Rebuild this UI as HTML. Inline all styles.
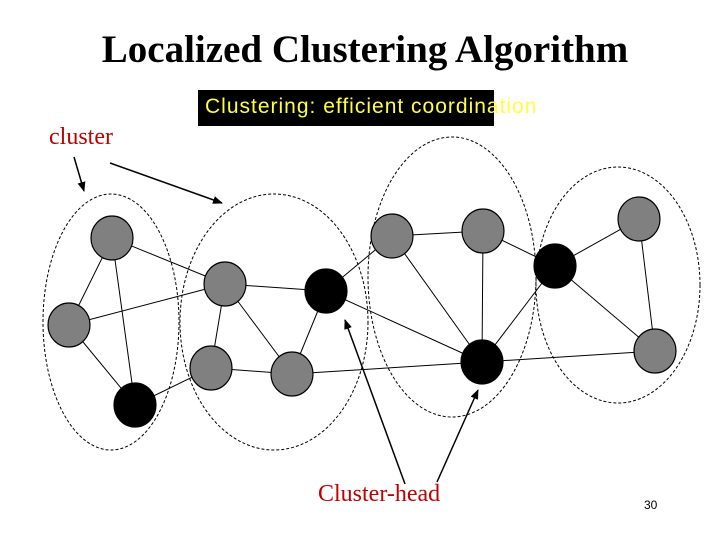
<!DOCTYPE html>
<html><head><meta charset="utf-8"><style>
html,body{margin:0;padding:0;background:#fff;}
body{width:720px;height:540px;position:relative;overflow:hidden;}
.t{position:absolute;white-space:nowrap;}
</style></head><body>
<div class="t" style="left:0;width:730px;top:27px;text-align:center;font:bold 39px 'Liberation Serif',serif;color:#000;">Localized Clustering Algorithm</div>
<div style="position:absolute;left:198px;top:90px;width:296px;height:36px;background:#000;"></div>
<div class="t" style="left:205px;top:95px;font:21px 'Liberation Sans',sans-serif;color:#ffff40;letter-spacing:1px;">Clustering: efficient coordination</div>
<div class="t" style="left:49px;top:124px;font:24px 'Liberation Serif',serif;color:#c00000;">cluster</div>
<div class="t" style="left:318px;top:481px;font:24px 'Liberation Serif',serif;color:#c00000;">Cluster-head</div>
<div class="t" style="left:644px;top:498px;font:12px 'Liberation Sans',sans-serif;color:#000;">30</div>
<svg width="720" height="540" style="position:absolute;left:0;top:0">
<defs><marker id="ar" markerWidth="10" markerHeight="8" refX="9" refY="4" orient="auto" markerUnits="userSpaceOnUse"><path d="M0,0 L10,4 L0,8 z" fill="#000"/></marker></defs>
<g fill="none" stroke="#000" stroke-width="1" stroke-dasharray="3,2">
<ellipse cx="111" cy="322" rx="68" ry="128"/>
<ellipse cx="274" cy="322" rx="94" ry="128"/>
<ellipse cx="452" cy="277" rx="84" ry="140"/>
<ellipse cx="618" cy="285" rx="82" ry="118"/>
</g>
<g stroke="#000" stroke-width="1">
<line x1="112" y1="238" x2="225" y2="284"/>
<line x1="112" y1="238" x2="69" y2="325"/>
<line x1="112" y1="238" x2="135" y2="405"/>
<line x1="69" y1="325" x2="225" y2="284"/>
<line x1="69" y1="325" x2="135" y2="405"/>
<line x1="135" y1="405" x2="211" y2="368"/>
<line x1="225" y1="284" x2="326" y2="291"/>
<line x1="225" y1="284" x2="211" y2="368"/>
<line x1="225" y1="284" x2="292" y2="374"/>
<line x1="211" y1="368" x2="292" y2="374"/>
<line x1="326" y1="291" x2="292" y2="374"/>
<line x1="326" y1="291" x2="392" y2="236"/>
<line x1="326" y1="291" x2="482" y2="362"/>
<line x1="392" y1="236" x2="483" y2="231"/>
<line x1="392" y1="236" x2="482" y2="362"/>
<line x1="483" y1="231" x2="482" y2="362"/>
<line x1="483" y1="231" x2="555" y2="266"/>
<line x1="555" y1="266" x2="639" y2="219"/>
<line x1="555" y1="266" x2="482" y2="362"/>
<line x1="555" y1="266" x2="655" y2="351"/>
<line x1="639" y1="219" x2="655" y2="351"/>
<line x1="292" y1="374" x2="482" y2="362"/>
<line x1="482" y1="362" x2="655" y2="351"/>
</g>
<g stroke="#000" stroke-width="1.2">
<ellipse cx="112" cy="238" rx="21" ry="22" fill="#808080"/>
<ellipse cx="69" cy="325" rx="21" ry="22" fill="#808080"/>
<ellipse cx="135" cy="405" rx="21" ry="22" fill="#000"/>
<ellipse cx="225" cy="284" rx="21" ry="22" fill="#808080"/>
<ellipse cx="211" cy="368" rx="21" ry="22" fill="#808080"/>
<ellipse cx="292" cy="374" rx="21" ry="22" fill="#808080"/>
<ellipse cx="326" cy="291" rx="21" ry="22" fill="#000"/>
<ellipse cx="392" cy="236" rx="21" ry="22" fill="#808080"/>
<ellipse cx="483" cy="231" rx="21" ry="22" fill="#808080"/>
<ellipse cx="555" cy="266" rx="21" ry="22" fill="#000"/>
<ellipse cx="639" cy="219" rx="21" ry="22" fill="#808080"/>
<ellipse cx="655" cy="351" rx="21" ry="22" fill="#808080"/>
<ellipse cx="482" cy="362" rx="21" ry="22" fill="#000"/>
</g>
<g stroke="#000" stroke-width="1.5" marker-end="url(#ar)">
<line x1="74" y1="157" x2="84" y2="191"/>
<line x1="110" y1="163" x2="222" y2="203"/>
<line x1="405" y1="484" x2="345" y2="320"/>
<line x1="437" y1="482" x2="478" y2="390"/>
</g>
</svg>
</body></html>
